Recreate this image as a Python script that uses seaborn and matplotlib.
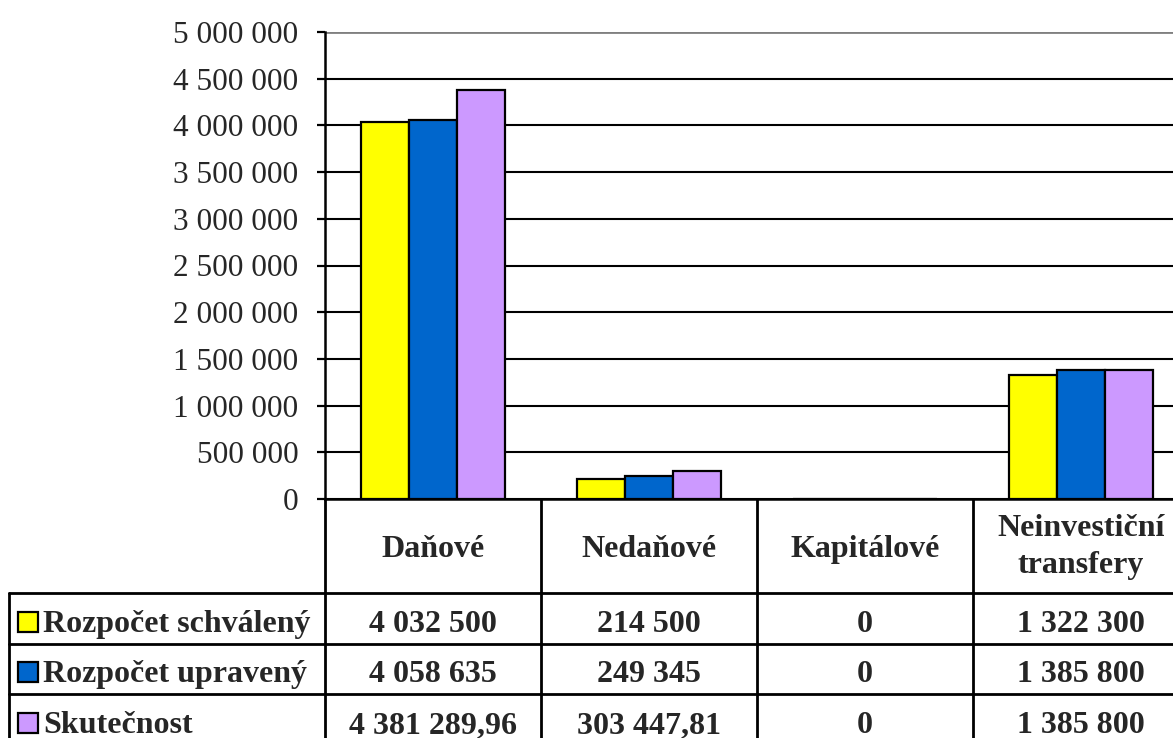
import numpy as np
import pandas as pd
import matplotlib
matplotlib.use("Agg")
import matplotlib.pyplot as plt
import seaborn as sns
from matplotlib import transforms
from matplotlib.lines import Line2D
from matplotlib.patches import Rectangle

# ---- data ----
categories = ["Daňové", "Nedaňové", "Kapitálové", "Neinvestiční\ntransfery"]
series = ["Rozpočet schválený", "Rozpočet upravený", "Skutečnost"]
schvaleny = [4032500, 214500, 0, 1322300]
upraveny = [4058635, 249345, 0, 1385800]
skutecnost = [4381289.96, 303447.81, 0, 1385800]
colors = ["#FFFF00", "#0066CC", "#CC99FF"]
yticks = list(range(0, 5000001, 500000))

values = [schvaleny, upraveny, skutecnost]
df = pd.DataFrame({
    "kategorie": categories * len(series),
    "rada": [s for s in series for _ in categories],
    "hodnota": schvaleny + upraveny + skutecnost,
})


def fmt(v):
    if float(v).is_integer():
        return f"{int(v):,}".replace(",", " ")
    return f"{v:,.2f}".replace(",", " ").replace(".", ",")


sns.set_style("white")
plt.rcParams["font.family"] = ["Liberation Serif", "DejaVu Serif"]

W, H = 1173, 738
fig = plt.figure(figsize=(W / 100, H / 100), dpi=100)
L, R, T, B = 325, 1189, 32, 499
ax = fig.add_axes([L / W, 1 - B / H, (R - L) / W, (B - T) / H])

sns.barplot(data=df, x="kategorie", y="hodnota", hue="rada",
            order=categories, hue_order=series, palette=colors,
            width=2 / 3, edgecolor="black", linewidth=1.6, saturation=1,
            errorbar=None, legend=False, ax=ax)

ax.set_xlim(-0.5, len(categories) - 0.5)
ax.set_ylim(0, 5000000)
ax.set_yticks(yticks)
ax.set_yticklabels([fmt(t) for t in yticks])
ax.set_xticks([])
ax.set_xlabel("")
ax.set_ylabel("")
ax.set_axisbelow(True)
ax.yaxis.grid(True, color="black", linewidth=1.5)
ax.get_ygridlines()[-1].set_color("#808080")
ax.get_ygridlines()[-1].set_linewidth(2.0)
for s in ["top", "right"]:
    ax.spines[s].set_visible(False)
for s in ["left", "bottom"]:
    ax.spines[s].set_color("black")
    ax.spines[s].set_linewidth(1.8)
ax.tick_params(axis="y", direction="out", length=6, width=1.6, color="black",
               pad=13, labelsize=22.5, left=True)

# ---- data table ----
fy = lambda p: 1 - p / H
fx = lambda p: p / W
blend = transforms.blended_transform_factory(ax.transData, fig.transFigure)
lw = 2.0
tsize = 23

for i in range(len(categories) + 1):
    fig.add_artist(Line2D([i - 0.5, i - 0.5], [fy(499), fy(760)], color="black",
                          lw=lw, transform=blend))
fig.add_artist(Line2D([fx(9), fx(9)], [fy(593), fy(760)], color="black", lw=lw,
                      transform=fig.transFigure))
for yl in [593, 644, 694]:
    fig.add_artist(Line2D([fx(9), fx(1200)], [fy(yl), fy(yl)], color="black",
                          lw=lw, transform=fig.transFigure))

for i, c in enumerate(categories):
    if "\n" in c:
        fig.text(i, fy(547), c, transform=blend, ha="center", va="center",
                 fontsize=tsize, fontweight="bold", linespacing=1.32)
    else:
        fig.text(i, fy(557), c, transform=blend, ha="center", va="baseline",
                 fontsize=tsize, fontweight="bold")

row_baselines = [632, 682, 733]
for r, (name, vals, col) in enumerate(zip(series, values, colors)):
    yb = row_baselines[r]
    fig.add_artist(Rectangle((fx(18), fy(yb)), 20 / W, 20 / H, facecolor=col,
                             edgecolor="black", lw=1.6, transform=fig.transFigure))
    fig.text(fx(43), fy(yb), name, ha="left", va="baseline", fontsize=tsize,
             fontweight="bold")
    for i, v in enumerate(vals):
        fig.text(i, fy(yb), fmt(v), transform=blend, ha="center", va="baseline",
                 fontsize=tsize, fontweight="bold")

fig.savefig("out.png", dpi=100)
